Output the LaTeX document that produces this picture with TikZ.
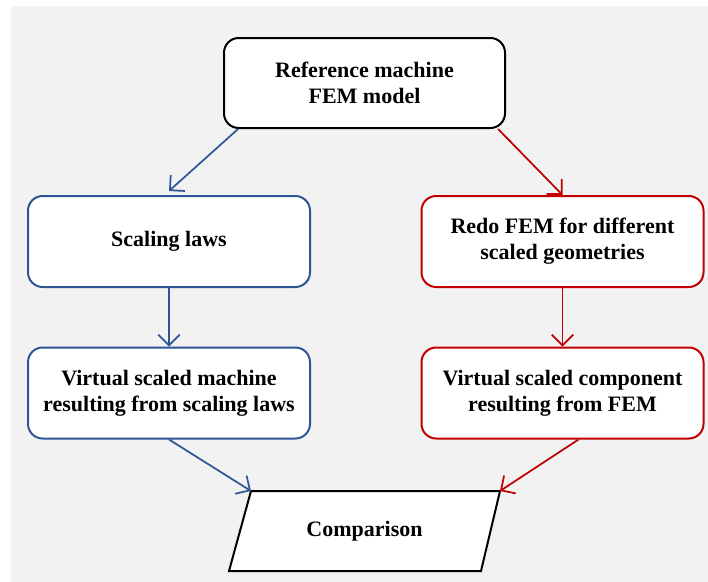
\documentclass[tikz,border=0pt]{standalone}
\usepackage{fontspec}
\setmainfont{Liberation Serif}
\usepackage{tikz}
\usetikzlibrary{arrows.meta}
\definecolor{flowblue}{RGB}{47,85,151}
\definecolor{flowred}{RGB}{192,0,0}
\definecolor{backgray}{RGB}{242,242,242}

\begin{document}
\begin{tikzpicture}[x=0.75pt,y=-0.75pt,
  box/.style={draw,fill=white,rounded corners=11pt,line width=1.5pt,
    align=center,font=\fontsize{16.5}{19.5}\selectfont\bfseries,
    minimum width=211.5pt,minimum height=68.25pt},
  link/.style={line width=1.3pt,-{Straight Barb[length=8pt,width=16pt,line width=1.3pt]}}]
\useasboundingbox (0,0) rectangle (708,582);
\fill[backgray] (11,6) rectangle (708,582);
\node[box,minimum width=210.75pt,minimum height=67.5pt] (ref) at (364.5,83)
  {Reference machine\\FEM model};
\node[box,draw=flowblue] (scal) at (169,241.5) {Scaling laws};
\node[box,draw=flowred] (redo) at (562.5,241.5)
  {Redo FEM for different\\scaled geometries};
\node[box,draw=flowblue] (vsm) at (169,393)
  {Virtual scaled machine\\resulting from scaling laws};
\node[box,draw=flowred] (vsc) at (562.5,393)
  {Virtual scaled component\\resulting from FEM};
% parallelogram
\coordinate (cmptl) at (251,491);
\coordinate (cmptr) at (500,491);
\draw[fill=white,line width=1.5pt] (229,571) -- (cmptl) -- (cmptr) -- (481,571) -- cycle;
\node[font=\fontsize{16.5}{19.5}\selectfont\bfseries] (cmp) at (364.5,531) {Comparison};
\draw[link,flowblue] (ref.200) -- ([yshift=3pt]scal.north);
\draw[link,flowred] (ref.341) -- (redo.north);
\draw[link,flowblue] (scal) -- (vsm);
\draw[link,flowred] (redo) -- (vsc);
\draw[link,flowblue] (vsm.south) -- (cmptl);
\draw[link,flowred] (vsc.-71) -- (cmptr);
\end{tikzpicture}
\end{document}
